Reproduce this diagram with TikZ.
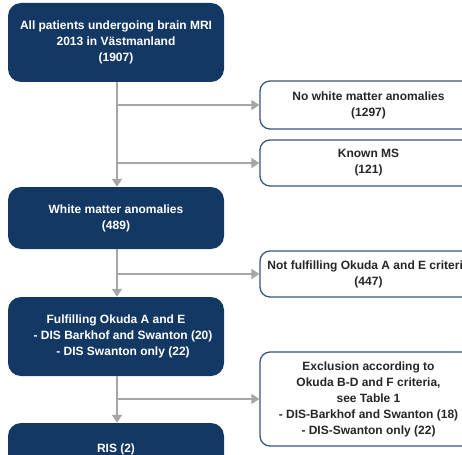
\documentclass[tikz,border=0pt]{standalone}
\usepackage{fontspec}
\setmainfont{Liberation Sans}
\usetikzlibrary{arrows.meta}
\definecolor{navy}{RGB}{20,56,100}
\definecolor{edgeblue}{RGB}{55,85,125}
\definecolor{linegray}{RGB}{166,166,166}
\definecolor{txtdark}{RGB}{38,38,38}
\tikzset{
  darkbox/.style={fill=navy, draw=none, rounded corners=13pt, text=white,
    font=\fontsize{12}{16}\selectfont\bfseries, align=center, inner sep=0pt,
    minimum width=216pt},
  lightbox/.style={fill=white, draw=edgeblue, line width=1.3pt, rounded corners=10pt, text=txtdark,
    font=\fontsize{12}{16}\selectfont\bfseries, align=center, inner sep=0pt,
    minimum width=217pt},
  flow/.style={draw=linegray, line width=2.6pt, -{Triangle[length=8pt,width=10pt]}},
  trunk/.style={draw=linegray, line width=2.6pt}
}
\begin{document}
\begin{tikzpicture}[x=1pt,y=-1pt]
\path[use as bounding box, clip] (0,0) rectangle (462,454);
\fill[white] (0,0) rectangle (462,454);

\node[darkbox, minimum height=79pt] (b1) at (116,42.5) {All patients undergoing brain MRI\\2013 in Västmanland\\(1907)};
\node[lightbox, minimum height=48pt] (r1) at (368.5,105) {No white matter anomalies\\(1297)};
\node[lightbox, minimum height=46pt] (r2) at (368.5,163) {Known MS\\(121)};
\node[darkbox, minimum height=62pt] (b2) at (116,218) {White matter anomalies\\(489)};
\node[lightbox, minimum height=46pt] (r3) at (368.5,274) {Not fulfilling Okuda A and E criteria\\(447)};
\node[darkbox, minimum height=79pt] (b3) at (116,336.5) {Fulfilling Okuda A and E\\\hspace*{14pt}- DIS Barkhof and Swanton (20)\\\hspace*{14pt}- DIS Swanton only (22)};
\node[lightbox, minimum height=94pt] (r4) at (368.5,399) {Exclusion according to\\Okuda B-D and F criteria,\\see Table 1\\- DIS-Barkhof and Swanton (18)\\- DIS-Swanton only (22)};
\node[darkbox, minimum height=52pt] (b4) at (116,449) {RIS (2)};

\draw[flow] ([xshift=1pt]b1.south) -- ([xshift=1pt]b2.north);
\draw[flow] ([xshift=1pt]b1.south |- r1.west) -- (r1.west);
\draw[flow] ([xshift=1pt]b1.south |- r2.west) -- (r2.west);
\draw[flow] ([xshift=1pt]b2.south) -- ([xshift=1pt]b3.north);
\draw[flow] ([xshift=1pt]b2.south |- r3.west) -- (r3.west);
\draw[flow] ([xshift=1pt]b3.south) -- ([xshift=1pt]b4.north);
\draw[flow] ([xshift=1pt]b3.south |- r4.west) -- (r4.west);
\end{tikzpicture}
\end{document}
